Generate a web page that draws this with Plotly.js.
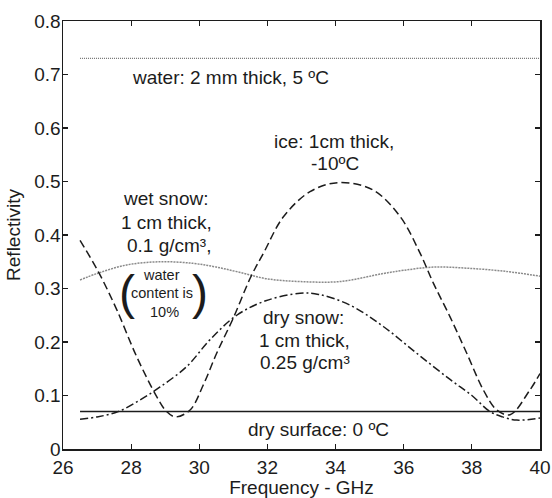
<!DOCTYPE html>
<html>
<head>
<meta charset="utf-8">
<script src="https://cdn.plot.ly/plotly-3.0.1.min.js"></script>
<style>html,body{margin:0;padding:0;background:#fff;}#chart{width:552px;height:498px;}</style>
</head>
<body>
<div id="chart"></div>
<script>
// Frequency (GHz) and reflectivity
var waterFreq = [26.5, 40.0];
var waterVal = [0.73, 0.73];

var drySurfFreq = [26.5, 40.0];
var drySurfVal = [0.07, 0.07];

var iceFreq = [26.5, 27.04, 27.58, 28.16, 28.75, 29.04, 29.3, 29.73, 30.12, 30.51, 31.0, 31.5, 31.9, 32.47, 33.25, 34.1, 35.1, 35.9, 36.48, 36.87, 37.36, 37.85, 38.34, 38.73, 39.12, 39.7, 40.0];
var iceVal = [0.39, 0.331, 0.26, 0.173, 0.098, 0.07, 0.06, 0.073, 0.12, 0.179, 0.245, 0.32, 0.368, 0.434, 0.481, 0.498, 0.484, 0.434, 0.366, 0.31, 0.247, 0.179, 0.11, 0.073, 0.064, 0.11, 0.141];

var drySnowFreq = [26.5, 27.0, 27.62, 28.26, 28.85, 29.63, 30.31, 31.1, 31.95, 32.96, 33.5, 34.42, 35.4, 36.38, 37.36, 38.0, 38.53, 38.9, 39.32, 40.0];
var drySnowVal = [0.0555, 0.06, 0.0698, 0.0916, 0.116, 0.154, 0.204, 0.25, 0.277, 0.291, 0.289, 0.269, 0.229, 0.179, 0.13, 0.1, 0.07, 0.06, 0.054, 0.058];

var wetSnowFreq = [26.5, 27.0, 27.87, 28.85, 29.82, 30.5, 31.2, 32.0, 32.96, 34.13, 35.4, 36.0, 36.87, 37.85, 39.0, 40.0];
var wetSnowVal = [0.316, 0.328, 0.344, 0.35, 0.347, 0.34, 0.33, 0.318, 0.313, 0.313, 0.328, 0.334, 0.34, 0.338, 0.332, 0.323];

var xTicks = [26, 28, 30, 32, 34, 36, 38, 40];
var yTicks = [0, 0.1, 0.2, 0.3, 0.4, 0.5, 0.6, 0.7, 0.8];

// Annotation labels: [text, x, y, size]
var labels = [
  ["water: 2 mm thick, 5 \u00baC", 30.91, 0.694, 19],
  ["ice: 1cm thick,", 33.95, 0.574, 19],
  ["-10\u00baC", 33.97, 0.534, 19],
  ["wet snow:", 29.02, 0.468, 19],
  ["1 cm thick,", 29.05, 0.424, 19],
  ["0.1 g/cm\u00b3,", 29.1, 0.380, 19],
  ["water", 28.88, 0.326, 14.5],
  ["content is", 28.92, 0.292, 14.5],
  ["10%", 28.98, 0.256, 14.5],
  ["dry snow:", 33.05, 0.245, 19],
  ["1 cm thick,", 33.1, 0.203, 19],
  ["0.25 g/cm\u00b3", 33.1, 0.162, 19],
  ["dry surface: 0 \u00baC", 33.5, 0.037, 19]
];
var parens = [["(", 27.88, 0.292], [")", 30.02, 0.292]];

var FONT = "Liberation Sans, Arial, Helvetica, sans-serif";
var INK = "#1c1c1c";

var traces = [
  {x: waterFreq, y: waterVal, mode: "lines", line: {color: "#777", width: 1.2, dash: "1px,1px"}},
  {x: drySurfFreq, y: drySurfVal, mode: "lines", line: {color: INK, width: 1.6}},
  {x: wetSnowFreq, y: wetSnowVal, mode: "lines", line: {color: "#8a8a8a", width: 1.5, dash: "2px,1px", shape: "spline"}},
  {x: iceFreq, y: iceVal, mode: "lines", line: {color: INK, width: 1.5, dash: "8px,4px", shape: "spline"}},
  {x: drySnowFreq, y: drySnowVal, mode: "lines", line: {color: INK, width: 1.5, dash: "8px,3px,2px,3px", shape: "spline"}}
];

var annotations = labels.map(function (l) {
  return {text: l[0], x: l[1], y: l[2], xref: "x", yref: "y", showarrow: false,
          xanchor: "center", yanchor: "middle", font: {family: FONT, size: l[3], color: INK}};
});
parens.forEach(function (p) {
  annotations.push({text: p[0], x: p[1], y: p[2], xref: "x", yref: "y", showarrow: false,
    xanchor: "center", yanchor: "middle", font: {family: FONT, size: 48, color: INK}});
});

var axisCommon = {
  showline: true, linecolor: INK, linewidth: 1.5, mirror: "ticks",
  ticks: "inside", ticklen: 5, tickwidth: 1.2, tickcolor: INK,
  showgrid: false, zeroline: false,
  tickfont: {family: FONT, size: 19, color: INK}
};

var layout = {
  width: 552, height: 498,
  margin: {l: 63, r: 12, t: 21, b: 49},
  paper_bgcolor: "#fff", plot_bgcolor: "#fff",
  showlegend: false,
  font: {family: FONT, color: INK},
  xaxis: Object.assign({}, axisCommon, {
    range: [26, 40], tickvals: xTicks, ticklabelstandoff: 1,
    title: {text: "Frequency - GHz", font: {family: FONT, size: 19, color: INK}, standoff: 3}
  }),
  yaxis: Object.assign({}, axisCommon, {
    range: [0, 0.8], tickvals: yTicks, ticklabelstandoff: -3,
    title: {text: "Reflectivity", font: {family: FONT, size: 19, color: INK}, standoff: 8}
  }),
  annotations: annotations
};

Plotly.newPlot("chart", traces, layout, {staticPlot: true, displayModeBar: false});
</script>
</body>
</html>
